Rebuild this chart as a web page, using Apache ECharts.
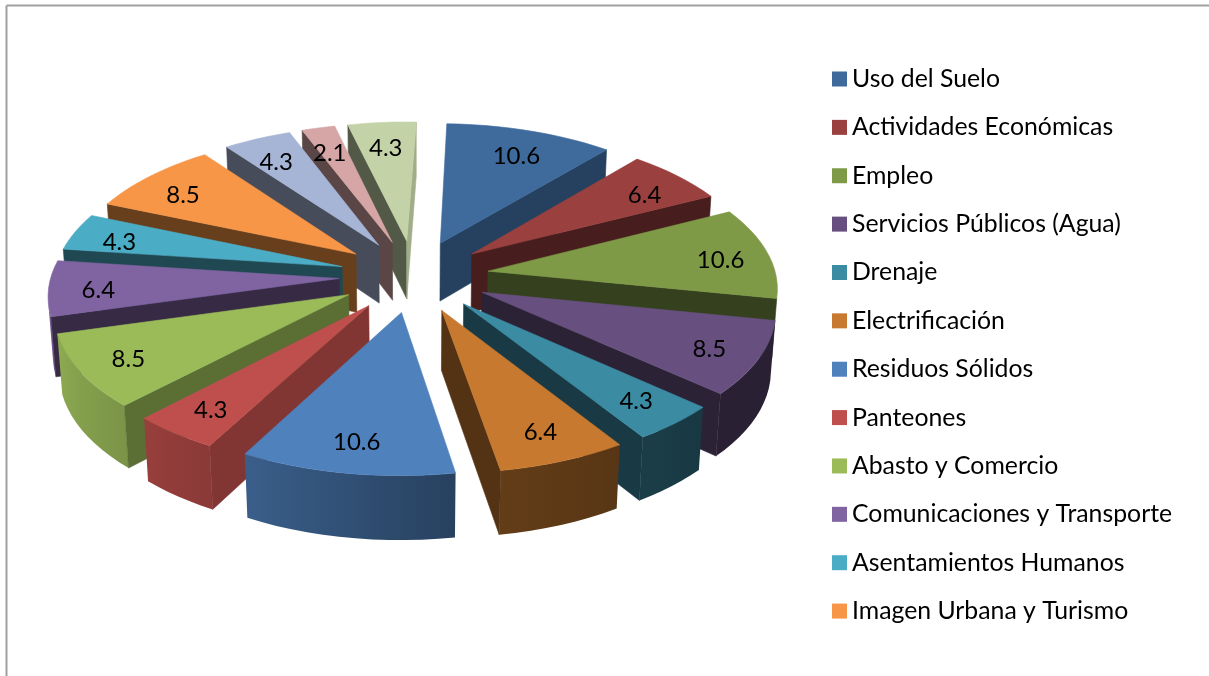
<!DOCTYPE html>
<html><head><meta charset="utf-8">
<style>html,body{margin:0;padding:0;background:#fff}#c{width:1209px;height:676px}</style>
<script src="https://cdn.jsdelivr.net/npm/echarts@6/dist/echarts.min.js"></script>
</head><body><div id="c"></div>
<script>
const categories = ["Uso del Suelo","Actividades Económicas","Empleo","Servicios Públicos (Agua)","Drenaje","Electrificación","Residuos Sólidos","Panteones","Abasto y Comercio","Comunicaciones y Transporte","Asentamientos Humanos","Imagen Urbana y Turismo"];
const unlistedCategories = ["Sin leyenda 13","Sin leyenda 14","Sin leyenda 15"];
const values = [10.6,6.4,10.6,8.5,4.3,6.4,10.6,4.3,8.5,6.4,4.3,8.5,4.3,2.1,4.3];
const colors = ["#3E6A9C","#9A403E","#7E9A47","#67507F","#3B8BA3","#C6792F","#4F81BD","#BE4F4C","#9BBB59","#8064A2","#4BACC6","#F79646","#A6B5D6","#D6A6A6","#C4D3A7"];

const view = {cx:414, cy:276, R:288, E:75, h:68, q:0.48, D:2450, start:2};
view.c = Math.sqrt(1 - view.q*view.q);
const total = values.reduce((a,b)=>a+b,0);
const rad = d => d*Math.PI/180;
function proj(X,Y,Z){
  const depth = Y*view.c + Z*view.q, s = view.D/(view.D-depth);
  return [view.cx + X*s, view.cy + (Y*view.q - Z*view.c)*s];
}
function visible(P,N){
  const cam=[0,view.D*view.c,view.D*view.q];
  return N[0]*(cam[0]-P[0])+N[1]*(cam[1]-P[1])+N[2]*(cam[2]-P[2])>0;
}
function shade(hex,f){
  const n=parseInt(hex.slice(1),16);
  const m=v=>Math.round(Math.min(255,v*f));
  return `rgb(${m(n>>16&255)},${m(n>>8&255)},${m(n&255)})`;
}
const clamp=(v,a,b)=>Math.max(a,Math.min(b,v));
const outerF = t => t<130 ? 0.4 : t<170 ? 0.4+(t-130)/40*0.1 : t<206 ? 0.5+(t-170)/36*0.22 : clamp(0.72+(t-206)/44*0.18,0.72,0.92);
const radialF = n => { n=((n%360)+360)%360; return n>160 ? 0.42 : clamp(0.42+(160-n)/44*0.28,0.42,0.82); };
const dir = t => [Math.sin(rad(t)),-Math.cos(rad(t))];

let acc=0;
const slices = values.map((v,i)=>{
  const a0=view.start+acc/total*360; acc+=v; const a1=view.start+acc/total*360;
  return {i,v,a0,a1,mid:(a0+a1)/2};
});
function poly(points,fill,stroke){
  return {type:'polygon',shape:{points},style:{fill,stroke:stroke||fill,lineWidth:0.6},silent:true};
}
function drawSlice(sl){
  const color=colors[sl.i], d=dir(sl.mid);
  const ox=d[0]*view.E, oy=d[1]*view.E, h=view.h, R=view.R;
  const kids=[];
  const steps=Math.max(4,Math.ceil((sl.a1-sl.a0)/3));
  const rim=[];
  for(let k=0;k<=steps;k++){
    const t=sl.a0+(sl.a1-sl.a0)*k/steps, u=dir(t);
    rim.push({t,X:ox+u[0]*R,Y:oy+u[1]*R});
  }
  // outer wall: one polygon per slice, shaded by a gradient along the rim
  const vis=rim.filter(p=>{const u=dir(p.t);return visible([p.X,p.Y,-h/2],[u[0],u[1],0]);});
  if(vis.length>1){
    const up=vis.map(p=>proj(p.X,p.Y,0)), low=vis.map(p=>proj(p.X,p.Y,-h)).reverse();
    const xs=up.map(p=>p[0]), x0=Math.min(...xs), x1=Math.max(...xs), span=Math.max(1,x1-x0);
    const stops=vis.map((p,k)=>({offset:clamp((up[k][0]-x0)/span,0,1),color:shade(color,outerF(p.t))})).sort((a,b)=>a.offset-b.offset);
    const fill={type:'linear',x:x0,y:0,x2:x1,y2:0,global:true,colorStops:stops};
    kids.push({type:'polygon',shape:{points:up.concat(low)},style:{fill},silent:true});
  }
  // radial walls
  [[rim[0],sl.a0-90],[rim[steps],sl.a1+90]].forEach(([p,n])=>{
    const u=dir(n);
    if(!visible([(p.X+ox)/2,(p.Y+oy)/2,-h/2],[u[0],u[1],0])) return;
    kids.push(poly([proj(ox,oy,0),proj(p.X,p.Y,0),proj(p.X,p.Y,-h),proj(ox,oy,-h)],shade(color,radialF(n))));
  });
  // top face
  const top=[proj(ox,oy,0)].concat(rim.map(p=>proj(p.X,p.Y,0)));
  kids.push(poly(top,color));
  const l=proj(ox+d[0]*R*0.83,oy+d[1]*R*0.8,0);
  kids.push({type:'text',silent:true,style:{text:sl.v.toFixed(1),x:l[0],y:l[1]+4,align:'center',verticalAlign:'middle',fill:'#000',font:'24px Lato'}});
  return {type:'group',children:kids};
}
const order = slices.slice().sort((a,b)=>dir(a.mid)[1]-dir(b.mid)[1]);
const allNames = categories.concat(unlistedCategories);
const series = slices.map(sl=>({
  type:'custom', name:allNames[sl.i], coordinateSystem:'none', animation:false,
  z:2+order.indexOf(sl),
  itemStyle:{color:colors[sl.i]},
  data:[[sl.v]],
  renderItem:()=>drawSlice(sl)
}));
const chart = echarts.init(document.getElementById('c'),null,{renderer:'canvas'});
chart.setOption({
  backgroundColor:'#fff',
  animation:false,
  legend:{
    data:categories, orient:'vertical', left:832, top:66.5, padding:0,
    icon:'rect', itemWidth:15, itemHeight:15, itemGap:23.37,
    selectedMode:false,
    textStyle:{fontFamily:'Lato',fontSize:24.8,color:'#000'}
  },
  graphic:[
    {type:'line',silent:true,shape:{x1:6.5,y1:5.5,x2:1209,y2:5.5},style:{stroke:'#a0a0a0',lineWidth:2}},
    {type:'line',silent:true,shape:{x1:6.5,y1:5.5,x2:6.5,y2:676},style:{stroke:'#a0a0a0',lineWidth:2}}
  ],
  series
});
</script></body></html>
